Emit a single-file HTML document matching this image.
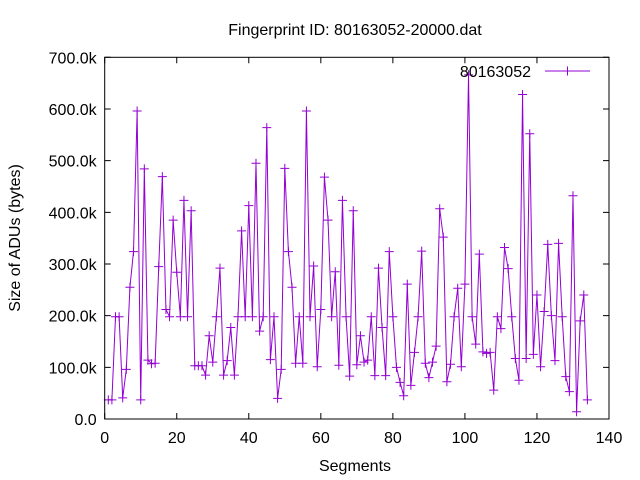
<!DOCTYPE html>
<html><head><meta charset="utf-8"><style>
body{margin:0;background:#fff}
svg{display:block;font-family:"Liberation Sans",sans-serif;font-size:16px}
</style></head><body>
<svg id="chart" width="640" height="480">
<rect x="0" y="0" width="640" height="480" fill="#fff"/>
<text x="355" y="35" text-anchor="middle">Fingerprint ID: 80163052-20000.dat</text>
<text x="355" y="471" text-anchor="middle">Segments</text>
<text transform="translate(20,238) rotate(-90)" text-anchor="middle">Size of ADUs (bytes)</text>
<g id="axes"></g>
<g id="series"></g>
<g>
<text x="531" y="77" text-anchor="end">80163052</text>
<line x1="545" y1="71" x2="590" y2="71" stroke="#9400d3" stroke-width="1"/>
<path d="M563,71h9M567.5,66.5v9" stroke="#9400d3" stroke-width="1"/>
</g>
<rect x="104.7" y="57.3" width="504.3" height="361.7" fill="none" stroke="#000" stroke-width="1"/>
</svg>
<script>
const xTicks=[0,20,40,60,80,100,120,140];
const yTicks=[0,100,200,300,400,500,600,700];
const yTickLabels=["0.0","100.0k","200.0k","300.0k","400.0k","500.0k","600.0k","700.0k"];
const values=[37,37,198,198,41,96,255,324,596,37,484,114,107,108,295,469,212,198,385,284,198,423,198,403,103,103,103,85,161,110,198,292,85,113,177,85,198,364,198,413,198,495,170,198,564,115,198,40,96,485,324,255,108,198,108,596,198,296,101,212,468,385,198,285,104,423,198,83,403,105,161,110,114,198,84,292,177,84,324,198,100,71,45,261,65,129,198,325,108,80,110,141,407,352,72,106,198,253,101,261,666,198,145,319,130,127,129,56,198,175,332,291,198,117,75,628,117,552,125,240,101,208,338,200,113,340,198,82,53,432,14,190,240,37];
const X0=104.7,X1=609,Y0=419,Y1=57.3;
const sx=v=>X0+(v-0)/(140-0)*(X1-X0);
const sy=v=>Y0-(v/700)*(Y0-Y1);
const NS="http://www.w3.org/2000/svg";
const axes=document.getElementById('axes'),ser=document.getElementById('series');
function mk(tag,attrs,parent){const e=document.createElementNS(NS,tag);for(const k in attrs)e.setAttribute(k,attrs[k]);parent.appendChild(e);return e;}
xTicks.forEach(t=>{
 const x=sx(t);
 const l=mk('path',{d:`M${x},${Y0}v-6M${x},${Y1}v6`,stroke:'#000'},axes);
 
 
 const tx=mk('text',{x:x,y:Y0+24,'text-anchor':'middle'},axes);tx.textContent=t;
 
 
});
yTicks.forEach((t,i)=>{
 const y=sy(t);
 const l=mk('path',{d:`M${X0},${y}h6M${X1},${y}h-6`,stroke:'#000'},axes);
 
 
 const tx=mk('text',{x:X0-8,y:y+6,'text-anchor':'end'},axes);tx.textContent=yTickLabels[i];
 
 
});
let d='';values.forEach((v,i)=>{d+=(i?'L':'M')+sx(i+1)+','+sy(v);});
const line=mk('path',{d:d,fill:'none',stroke:'#9400d3','stroke-width':1},ser);


values.forEach((v,i)=>{
 const x=sx(i+1),y=sy(v);
 const p=mk('path',{d:`M${x-4.5},${y}h9M${x},${y-4.5}v9`,stroke:'#9400d3','stroke-width':1},ser);
 
 
});
</script>
</body></html>
